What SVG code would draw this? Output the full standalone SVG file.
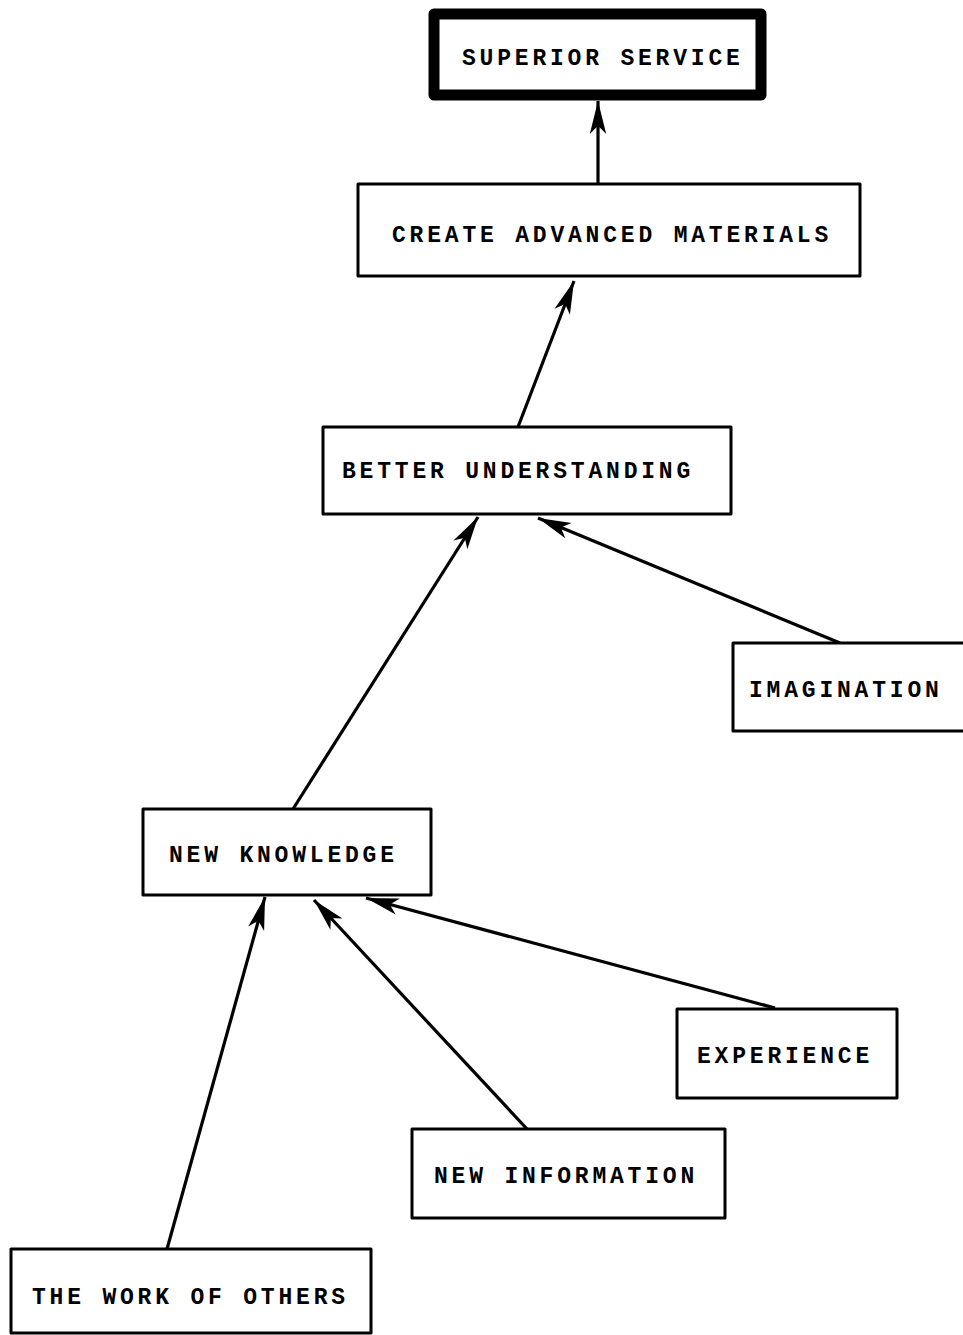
<svg xmlns="http://www.w3.org/2000/svg" width="963" height="1335" viewBox="0 0 963 1335">
  <style>
    .box { fill: #fff; stroke: #000; stroke-width: 3; stroke-linejoin: round; }
    .goal { fill: #fff; stroke: #000; stroke-width: 11; stroke-linejoin: round; }
    .lbl { font-family: "Liberation Mono", "Courier New", monospace; font-size: 23px; font-weight: bold; letter-spacing: 3.8px; fill: #000; }
    .edge { stroke: #000; stroke-width: 3.2; fill: none; marker-end: url(#head); }
  </style>
  <defs>
    <!-- long, narrow filled arrowhead with a shallow notch -->
    <marker id="head" markerUnits="userSpaceOnUse" markerWidth="36" markerHeight="22" viewBox="-33 -9 35 18" refX="0" refY="0" orient="auto">
      <path d="M0,0 L-32,-8 L-24,0 L-32,8 Z" fill="#000"/>
    </marker>
  </defs>
  <rect width="963" height="1335" fill="#fff"/>

  <!-- connectors -->
  <g id="connectors">
    <line class="edge" x1="598" y1="184" x2="598" y2="101"/>
    <line class="edge" x1="518" y1="427" x2="574" y2="281"/>
    <line class="edge" x1="840" y1="643" x2="538" y2="518"/>
    <line class="edge" x1="293" y1="809" x2="478" y2="517"/>
    <line class="edge" x1="167" y1="1249" x2="265" y2="897"/>
    <line class="edge" x1="527" y1="1129" x2="314" y2="900"/>
    <line class="edge" x1="775" y1="1008" x2="366" y2="898"/>
  </g>

  <!-- nodes -->
  <g id="superior-service">
    <rect class="goal" x="434" y="14" width="327" height="81"/>
    <text class="lbl" x="462" y="65">SUPERIOR SERVICE</text>
  </g>
  <g id="create-advanced-materials">
    <rect class="box" x="358" y="184" width="502" height="92"/>
    <text class="lbl" x="392" y="242">CREATE ADVANCED MATERIALS</text>
  </g>
  <g id="better-understanding">
    <rect class="box" x="323" y="427" width="408" height="87"/>
    <text class="lbl" x="342" y="478">BETTER UNDERSTANDING</text>
  </g>
  <g id="imagination">
    <rect class="box" x="733" y="643" width="240" height="88"/>
    <text class="lbl" x="749" y="697">IMAGINATION</text>
  </g>
  <g id="new-knowledge">
    <rect class="box" x="143" y="809" width="288" height="86"/>
    <text class="lbl" x="169" y="862">NEW KNOWLEDGE</text>
  </g>
  <g id="experience">
    <rect class="box" x="677" y="1009" width="220" height="89"/>
    <text class="lbl" x="697" y="1063">EXPERIENCE</text>
  </g>
  <g id="new-information">
    <rect class="box" x="412" y="1129" width="313" height="89"/>
    <text class="lbl" x="434" y="1183">NEW INFORMATION</text>
  </g>
  <g id="work-of-others">
    <rect class="box" x="11" y="1249" width="360" height="84"/>
    <text class="lbl" x="32" y="1304">THE WORK OF OTHERS</text>
  </g>
</svg>
